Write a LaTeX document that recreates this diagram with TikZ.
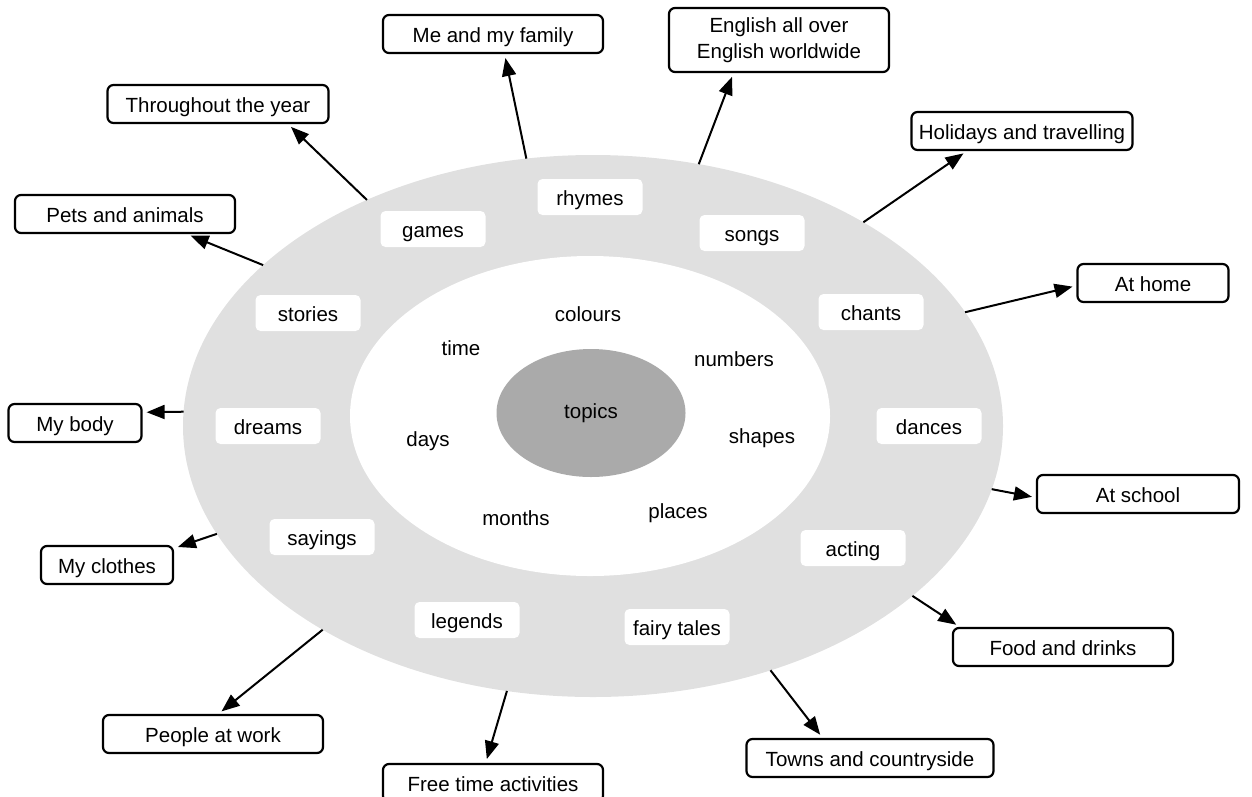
\documentclass[tikz,border=0pt]{standalone}
\usepackage{fontspec}
\setmainfont{Liberation Sans}
\usetikzlibrary{shapes.geometric,arrows.meta}
\definecolor{ringgray}{RGB}{224,224,224}
\definecolor{topicgray}{RGB}{170,170,170}

\begin{document}
\begin{tikzpicture}[x=1pt,y=-1pt,font=\fontsize{20.5}{26}\selectfont]

      \useasboundingbox (0,0) rectangle (1252,796);

      \begin{scope}[every node/.style={ellipse,inner sep=0pt,outer sep=0pt}]
        \node[fill=ringgray,minimum width=820pt,minimum height=542pt] (ring) at (593,426) {};
        \node[fill=white,minimum width=480pt,minimum height=320pt] (inner) at (590,416) {};
        \node[fill=topicgray,minimum width=189pt,minimum height=128pt] (topics) at (591,413) {topics};
      \end{scope}

      \begin{scope}[every node/.style={inner sep=0pt,text height=18pt,text depth=2pt}]
        \node (colours) at (588,313) {colours};
        \node (time)    at (461,347) {time};
        \node (numbers) at (734,358) {numbers};
        \node (days)    at (428,438) {days};
        \node (shapes)  at (762,435) {shapes};
        \node (months)  at (516,517) {months};
        \node (places)  at (678,510) {places};
      \end{scope}

      \begin{scope}[every node/.style={fill=white,rounded corners=5pt,minimum width=105pt,minimum height=36pt,inner sep=0pt,text height=18pt,text depth=2pt}]
        \node (rhymes)  at (590,197) {rhymes};
        \node (games)   at (433,229) {games};
        \node (songs)   at (752,233) {songs};
        \node (stories) at (308,313) {stories};
        \node (chants)  at (871,312) {chants};
        \node (dreams)  at (268,426) {dreams};
        \node (dances)  at (929,426) {dances};
        \node (sayings) at (322,537) {sayings};
        \node (acting)  at (853,548) {acting};
        \node (legends) at (467,620) {legends};
        \node (fairy)   at (677,627) {fairy tales};
      \end{scope}

      \begin{scope}[every node/.style={draw,line width=2.2pt,rounded corners=6pt,fill=white,minimum height=38pt,inner sep=0pt,text height=18pt,text depth=2pt}]
        \node[minimum width=220pt] (family)   at (493,34)  {Me and my family};
        \node[minimum width=220pt,minimum height=64pt,align=center,text height=,text depth=] (english) at (779,40) {English all over\\English worldwide};
        \node[minimum width=221pt] (year)     at (218,104) {Throughout the year};
        \node[minimum width=221pt] (holidays) at (1022,131) {Holidays and travelling};
        \node[minimum width=220pt] (pets)     at (125,214) {Pets and animals};
        \node[minimum width=151pt] (home)     at (1153,283) {At home};
        \node[minimum width=133pt] (body)     at (75,423)  {My body};
        \node[minimum width=132pt] (clothes)  at (107,565) {My clothes};
        \node[minimum width=202pt] (school)   at (1138,494) {At school};
        \node[minimum width=220pt] (food)     at (1063,647) {Food and drinks};
        \node[minimum width=247pt] (towns)    at (870,758) {Towns and countryside};
        \node[minimum width=220pt] (freetime) at (493,783) {Free time activities};
        \node[minimum width=220pt] (people)   at (213,734) {People at work};
      \end{scope}

      \begin{scope}[every edge/.style={draw,line width=2pt,-{Triangle[length=18pt,width=14pt]},shorten >=4pt}]
        \path (ring.104) edge (family.300);
        \path (ring.68)  edge (english.216);
        \path (ring.135) edge (year.344);
        \path (ring.154) edge (pets.342);
        \path (ring.37)  edge (holidays.200);
        \path (ring.17)  edge (home.182);
        \path (ring.178) edge (body.9);
        \path (ring.196) edge (clothes.14);
        \path (ring.351) edge (school.182);
        \path (ring.332) edge (food.169);
        \path (ring.306) edge (towns.157);
        \path (ring.252) edge (freetime.110);
        \path (ring.217) edge (people.75);
      \end{scope}

    \end{tikzpicture}
\end{document}
